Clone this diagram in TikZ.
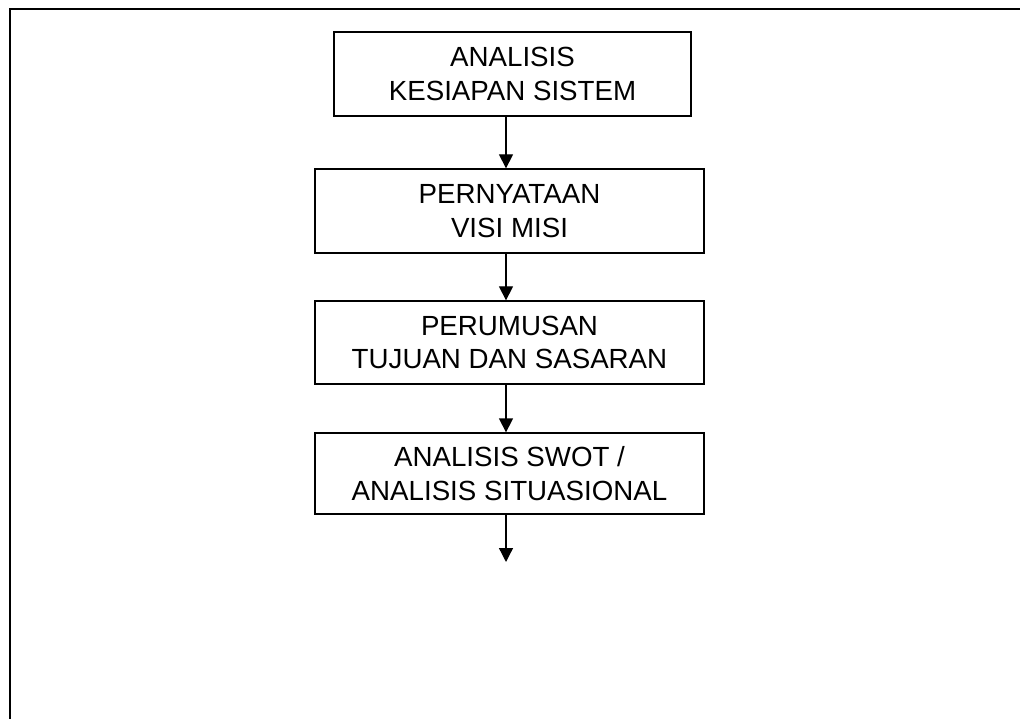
\documentclass[tikz,border=0pt]{standalone}
\usepackage{fontspec}
\setmainfont{Liberation Sans}
\usetikzlibrary{arrows.meta}
\begin{document}
\begin{tikzpicture}[x=1pt,y=-1pt,
  stagebox/.style={draw=black,line width=1.3pt,inner sep=0pt,align=center,
    font=\fontsize{27.7}{33.3}\selectfont},
  flow/.style={line width=1.3pt,-{Triangle[length=14pt,width=14pt]}},
  frameline/.style={line width=2.2pt}]
\useasboundingbox (0,0) rectangle (1020,719);
% outer frame (top and left edges)
\draw[frameline] (1022,8.8) -- (9.6,8.8) -- (9.6,722);
% stages
\node[stagebox,minimum width=357pt,minimum height=84pt] (s1) at (512.5,74)
  {ANALISIS\\KESIAPAN SISTEM};
\node[stagebox,minimum width=389pt,minimum height=84pt] (s2) at (509.5,211)
  {PERNYATAAN\\VISI MISI};
\node[stagebox,minimum width=389pt,minimum height=83pt] (s3) at (509.5,342.5)
  {PERUMUSAN\\TUJUAN DAN SASARAN};
\node[stagebox,minimum width=389pt,minimum height=81pt] (s4) at (509.5,473.5)
  {ANALISIS SWOT /\\ANALISIS SITUASIONAL};
% connectors
\coordinate (ax) at (506,0);
\coordinate (tail) at (506,562);
\draw[flow] (s1.south -| ax) -- (s2.north -| ax);
\draw[flow] (s2.south -| ax) -- (s3.north -| ax);
\draw[flow] (s3.south -| ax) -- (s4.north -| ax);
\draw[flow] (s4.south -| ax) -- (tail);
\end{tikzpicture}
\end{document}
